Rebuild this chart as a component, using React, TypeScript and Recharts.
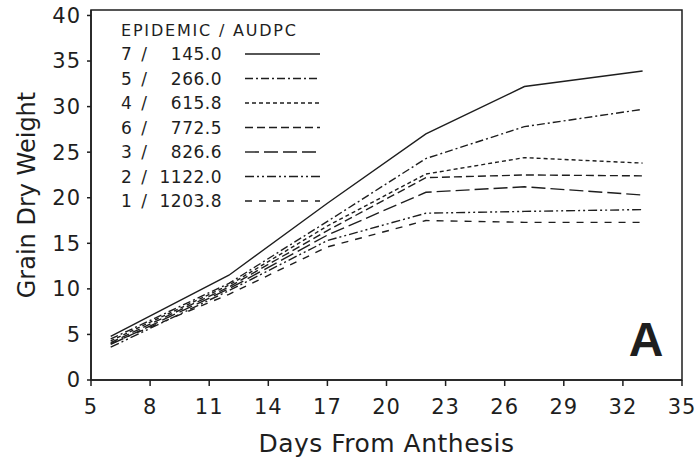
import React from "react";
import { LineChart, Line, XAxis, YAxis, ReferenceArea, Label } from "recharts";

const days = [6, 12, 17, 22, 27, 33];
const e7 = [4.8, 11.5, 19.4, 27.0, 32.2, 33.9];
const e5 = [4.5, 10.6, 17.4, 24.3, 27.8, 29.7];
const e4 = [4.3, 10.4, 16.9, 22.6, 24.4, 23.8];
const e6 = [4.1, 10.2, 16.4, 22.2, 22.5, 22.4];
const e3 = [3.9, 10.0, 15.9, 20.6, 21.2, 20.3];
const e2 = [3.6, 9.8, 15.3, 18.3, 18.5, 18.7];
const e1 = [4.0, 9.4, 14.6, 17.5, 17.3, 17.3];

const xTicks = [5, 8, 11, 14, 17, 20, 23, 26, 29, 32, 35];
const yTicks = [0, 5, 10, 15, 20, 25, 30, 35, 40];

const legendTitle = "EPIDEMIC / AUDPC";
const series = [
  { key: "e7", epi: "7", audpc: "145.0", values: e7, dash: undefined as string | undefined },
  { key: "e5", epi: "5", audpc: "266.0", values: e5, dash: "8 3 2 3" },
  { key: "e4", epi: "4", audpc: "615.8", values: e4, dash: "4 3" },
  { key: "e6", epi: "6", audpc: "772.5", values: e6, dash: "8 4" },
  { key: "e3", epi: "3", audpc: "826.6", values: e3, dash: "14 5" },
  { key: "e2", epi: "2", audpc: "1122.0", values: e2, dash: "9 3 2 3 2 3" },
  { key: "e1", epi: "1", audpc: "1203.8", values: e1, dash: "7 7" },
];

const data = days.map((d, i) => {
  const row: Record<string, number> = { day: d };
  series.forEach((s) => {
    row[s.key] = s.values[i];
  });
  return row;
});

const FONT = "'DejaVu Sans', sans-serif";
const INK = "#1e1e1e";

export default function App() {
  return (
    <div style={{ position: "absolute", left: 0, top: 0, width: 696, height: 465, background: "#fff" }}>
      <LineChart
        width={696}
        height={465}
        data={data}
        margin={{ top: 10, right: 14, bottom: 25, left: 0 }}
        style={{ fontFamily: FONT }}
      >
        <ReferenceArea
          x1={5}
          x2={35}
          y1={0}
          y2={40.6}
          fill="none"
          stroke={INK}
          strokeWidth={1.5}
          ifOverflow="visible"
        />
        <XAxis
          dataKey="day"
          type="number"
          domain={[5, 35]}
          ticks={xTicks}
          height={60}
          tickSize={6}
          tickMargin={13}
          stroke={INK}
          strokeWidth={1.5}
          tick={{ fill: INK, fontSize: 21, fontFamily: FONT, letterSpacing: 1 }}
          allowDataOverflow
        >
          <Label
            value="Days From Anthesis"
            position="insideBottom"
            offset={-12}
            style={{ fill: INK, fontSize: 25, fontFamily: FONT, textAnchor: "middle", letterSpacing: 0.5 }}
          />
        </XAxis>
        <YAxis
          type="number"
          domain={[0, 40.6]}
          ticks={yTicks}
          width={91}
          tickSize={4}
          tickMargin={6}
          stroke={INK}
          strokeWidth={1.5}
          tick={{ fill: INK, fontSize: 21, fontFamily: FONT, letterSpacing: 1 }}
          allowDataOverflow
        >
          <Label
            value="Grain Dry Weight"
            angle={-90}
            position="insideLeft"
            offset={26}
            style={{ fill: INK, fontSize: 24, fontFamily: FONT, textAnchor: "middle" }}
          />
        </YAxis>
        {series.map((s) => (
          <Line
            key={s.key}
            dataKey={s.key}
            type="linear"
            stroke={INK}
            strokeWidth={1.4}
            strokeDasharray={s.dash}
            dot={false}
            activeDot={false}
            isAnimationActive={false}
          />
        ))}
      </LineChart>
      <svg
        width={696}
        height={465}
        style={{ position: "absolute", left: 0, top: 0, pointerEvents: "none" }}
      >
        <text x={121} y={36} fontSize={16} fontFamily={FONT} fill={INK} letterSpacing={1.8}>
          {legendTitle}
        </text>
        {series.map((s, i) => {
          const y = 60 + i * 24.5;
          return (
            <g key={s.key}>
              <text x={121} y={y} fontSize={17} fontFamily={FONT} fill={INK} letterSpacing={2}>
                {s.epi + " /"}
              </text>
              <text x={222} y={y} fontSize={17} fontFamily={FONT} fill={INK} textAnchor="end" letterSpacing={0.5}>
                {s.audpc}
              </text>
              <line
                x1={245}
                x2={320}
                y1={y - 6}
                y2={y - 6}
                stroke={INK}
                strokeWidth={1.4}
                strokeDasharray={s.dash}
              />
            </g>
          );
        })}
        <text
          x={646}
          y={356}
          fontSize={48}
          fontWeight="bold"
          fontFamily="'Liberation Sans', Arial, sans-serif"
          fill={INK}
          textAnchor="middle"
        >
          A
        </text>
      </svg>
    </div>
  );
}
